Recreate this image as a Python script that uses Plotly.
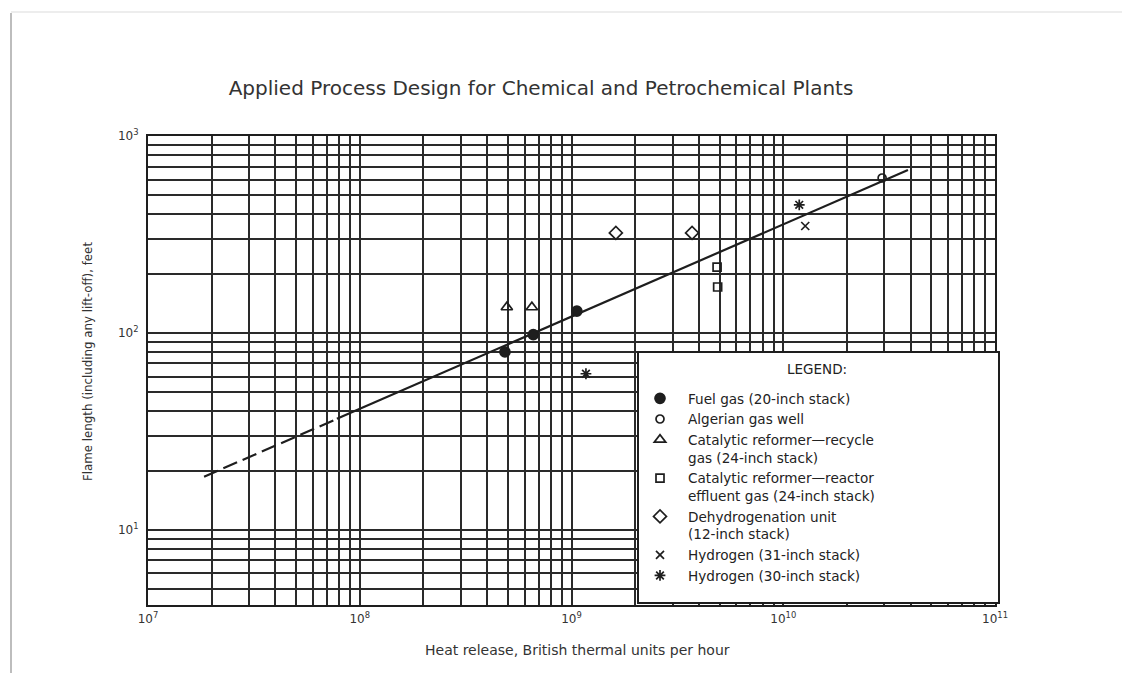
import plotly.graph_objects as go

# ---------------- text ----------------
chart_title = "Applied Process Design for Chemical and Petrochemical Plants"
x_title = "Heat release, British thermal units per hour"
y_title = "Flame length (including any lift-off), feet"
legend_heading = "LEGEND:"

# ---------------- data ----------------
# correlation line: dashed extrapolation, then solid
trend_dash_x = [1.84e7, 7.8e7]
trend_dash_y = [18.6, 36.6]
trend_solid_x = [7.8e7, 3.88e10]
trend_solid_y = [36.6, 672]

series_names = [
    "Fuel gas (20-inch stack)",
    "Algerian gas well",
    "Catalytic reformer\u2014recycle<br>gas (24-inch stack)",
    "Catalytic reformer\u2014reactor<br>effluent gas (24-inch stack)",
    "Dehydrogenation unit<br>(12-inch stack)",
    "Hydrogen (31-inch stack)",
    "Hydrogen (30-inch stack)",
]
fuel_x = [4.85e8, 6.6e8, 1.06e9]
fuel_y = [80, 98, 129]
algerian_x = [2.93e10]
algerian_y = [612]
recycle_x = [4.95e8, 6.5e8]
recycle_y = [135, 135]
effluent_x = [4.87e9, 4.9e9]
effluent_y = [216, 171]
dehydro_x = [1.62e9, 3.71e9]
dehydro_y = [322, 322]
h31_x = [1.27e10]
h31_y = [349]
h30_x = [1.17e9, 1.19e10]
h30_y = [62, 447]

# decade ticks (labelled) and 2..9 minor grid lines
x_decades = [7, 8, 9, 10, 11]
y_decades = [1, 2, 3]
y_min, y_max = 4.15, 1000
x_min, x_max = 1e7, 1e11

INK = "#1e1e1e"
FONT = "DejaVu Sans, Liberation Sans, sans-serif"

# page offset of the plot div (body margin) and figure size
OFF = 8
FW, FH = 1130 - OFF, 673 - OFF
# plot-area geometry in screen pixels
PL, PR, PT, PB = 148, 995, 136, 605
PW, PH = PR - PL, PB - PT


def px_x(px):
    return (px - PL) / PW


def px_y(py):
    return (PB - py) / PH


def minor_vals(lo, hi):
    vals = []
    for d in range(0, 12):
        for k in range(2, 10):
            v = k * 10 ** d
            if lo <= v <= hi:
                vals.append(v)
    return vals


xt_vals = [10 ** d for d in x_decades]
xt_text = [f"10<sup>{d}</sup>" for d in x_decades]
yt_vals = [10 ** d for d in y_decades]
yt_text = [f"10<sup>{d}</sup>" for d in y_decades]

fig = go.Figure()

fig.add_trace(go.Scatter(x=trend_dash_x, y=trend_dash_y, mode="lines",
                         line=dict(color=INK, width=2.2, dash="15px,6px"),
                         showlegend=False, hoverinfo="skip"))
fig.add_trace(go.Scatter(x=trend_solid_x, y=trend_solid_y, mode="lines",
                         line=dict(color=INK, width=2.2),
                         showlegend=False, hoverinfo="skip"))

series = [
    (fuel_x, fuel_y, "circle", 10, INK),
    (algerian_x, algerian_y, "circle-open", 8, INK),
    (recycle_x, recycle_y, "triangle-up-open", 10, INK),
    (effluent_x, effluent_y, "square-open", 8, INK),
    (dehydro_x, dehydro_y, "diamond-open", 10, INK),
    (h31_x, h31_y, "x-thin-open", 8, INK),
    (h30_x, h30_y, "asterisk-open", 9, INK),
]
for (sx, sy, sym, size, col), name in zip(series, series_names):
    fig.add_trace(go.Scatter(
        x=sx, y=sy, mode="markers", name=name,
        marker=dict(symbol=sym, size=size, color=col,
                    line=dict(color=col, width=1.7)),
    ))

GRID = dict(showgrid=True, gridcolor="#2a2a2a", gridwidth=1.5)
axis_common = dict(
    type="log", showline=True, linecolor=INK, linewidth=2, mirror=True,
    ticks="", zeroline=False, automargin=False, tickmode="array",
    tickfont=dict(family=FONT, size=12, color="#333"), **GRID,
)

fig.update_layout(
    width=FW, height=FH,
    margin=dict(l=PL - OFF, r=FW - (PR - OFF), t=PT - OFF, b=FH - (PB - OFF),
                autoexpand=False),
    paper_bgcolor="white", plot_bgcolor="white",
    font=dict(family=FONT, color="#222"),
    title=dict(text=chart_title, x=(541 - OFF) / FW, xanchor="center",
               y=1 - (88 - OFF) / FH, yanchor="middle",
               font=dict(family=FONT, size=20, color="#333")),
    xaxis=dict(axis_common, range=[7, 11], tickvals=xt_vals, ticktext=xt_text,
               ticklabelstandoff=2,
               minor=dict(tickmode="array", tickvals=minor_vals(x_min, x_max),
                          ticks="", **GRID)),
    yaxis=dict(axis_common, range=[0.618, 3], tickvals=yt_vals, ticktext=yt_text,
               ticklabelstandoff=5,
               minor=dict(tickmode="array", tickvals=minor_vals(y_min, y_max),
                          ticks="", **GRID)),
    showlegend=True,
    legend=dict(
        xref="paper", yref="paper",
        x=px_x(632), xanchor="left",
        y=px_y(383), yanchor="top",
        bgcolor="rgba(0,0,0,0)", borderwidth=0,
        itemwidth=46, valign="top",
        font=dict(family=FONT, size=13.6, color="#222"),
    ),
    shapes=[
        # white legend panel over the grid
        dict(type="rect", xref="x domain", yref="y domain",
             x0=px_x(638), x1=px_x(999), y0=px_y(603), y1=px_y(352),
             fillcolor="white", line=dict(color=INK, width=2), layer="above"),
        # card frame edges
        dict(type="line", xref="paper", yref="paper",
             x0=px_x(11), x1=px_x(11), y0=px_y(690), y1=px_y(13),
             line=dict(color="#bdbdbd", width=2)),
        dict(type="line", xref="paper", yref="paper",
             x0=px_x(11), x1=px_x(1140), y0=px_y(12), y1=px_y(12),
             line=dict(color="#ededed", width=2)),
    ],
    annotations=[
        dict(text=legend_heading, xref="paper", yref="paper",
             x=px_x(817), y=px_y(369),
             xanchor="center", yanchor="middle", showarrow=False,
             font=dict(family=FONT, size=13.5, color="#222")),
        dict(text=x_title, xref="paper", yref="paper",
             x=px_x(577), y=px_y(650),
             xanchor="center", yanchor="middle", showarrow=False,
             font=dict(family=FONT, size=14, color="#333")),
        dict(text=y_title, xref="paper", yref="paper", textangle=-90,
             x=px_x(88), y=px_y(362),
             xanchor="center", yanchor="middle", showarrow=False,
             font=dict(family=FONT, size=11.8, color="#333")),
    ],
)

fig.write_html("out.html")
